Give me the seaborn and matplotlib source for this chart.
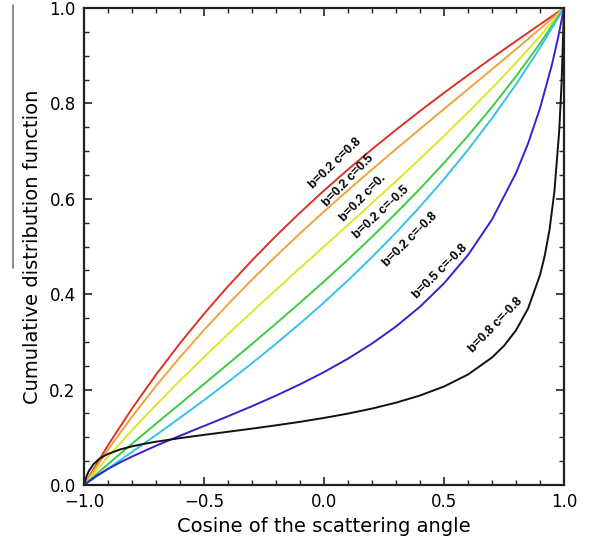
import numpy as np
import pandas as pd
import matplotlib
matplotlib.use("Agg")
import matplotlib.pyplot as plt
from matplotlib.lines import Line2D
from matplotlib.ticker import MultipleLocator, FuncFormatter
import seaborn as sns

# Curves (cosine of scattering angle vs CDF)
mu_b02 = [-1.0, -0.9, -0.8, -0.7, -0.6, -0.5, -0.4, -0.3, -0.2, -0.1, 0.0,
          0.1, 0.2, 0.3, 0.4, 0.5, 0.6, 0.7, 0.8, 0.9, 1.0]
cdf_b02_c08 = [0.0, 0.0834, 0.1602, 0.2312, 0.2972, 0.3588, 0.4165, 0.4709, 0.5222, 0.5709, 0.6173,
               0.6615, 0.7039, 0.7447, 0.7840, 0.8221, 0.8591, 0.8953, 0.9307, 0.9655, 1.0]
cdf_b02_c05 = [0.0, 0.0743, 0.1432, 0.2075, 0.2679, 0.3249, 0.3789, 0.4305, 0.4798, 0.5274, 0.5733,
               0.6179, 0.6615, 0.7043, 0.7464, 0.7882, 0.8298, 0.8715, 0.9136, 0.9563, 1.0]
cdf_b02_c00 = [0.0, 0.0590, 0.1148, 0.1680, 0.2190, 0.2683, 0.3162, 0.3631, 0.4091, 0.4547, 0.5000,
               0.5453, 0.5909, 0.6369, 0.6838, 0.7317, 0.7810, 0.8320, 0.8852, 0.9410, 1.0]
cdf_b02_cm05 = [0.0, 0.0437, 0.0864, 0.1285, 0.1702, 0.2118, 0.2536, 0.2957, 0.3385, 0.3821, 0.4267,
                0.4726, 0.5202, 0.5696, 0.6211, 0.6752, 0.7321, 0.7925, 0.8568, 0.9257, 1.0]
cdf_b02_cm08 = [0.0, 0.0345, 0.0693, 0.1047, 0.1409, 0.1779, 0.2160, 0.2553, 0.2961, 0.3385, 0.3827,
                0.4291, 0.4778, 0.5291, 0.5835, 0.6412, 0.7028, 0.7688, 0.8398, 0.9166, 1.0]

mu_b05 = [-1.0, -0.95, -0.9, -0.85, -0.8, -0.7, -0.6, -0.5, -0.4, -0.3, -0.2, -0.1, 0.0,
          0.1, 0.2, 0.3, 0.4, 0.5, 0.6, 0.7, 0.8, 0.85, 0.9, 0.95, 0.975, 1.0]
cdf_b05_cm08 = [0.0, 0.0182, 0.0336, 0.0472, 0.0596, 0.0823, 0.1032, 0.1237, 0.1441, 0.1652, 0.1874, 0.2110, 0.2367,
                0.2649, 0.2965, 0.3323, 0.3738, 0.4227, 0.4821, 0.5565, 0.6539, 0.7155, 0.7898, 0.8818, 0.9369, 1.0]

mu_b08 = [-1.0, -0.99, -0.98, -0.96, -0.94, -0.92, -0.9, -0.85, -0.8, -0.75, -0.7, -0.6, -0.5, -0.4,
          -0.3, -0.2, -0.1, 0.0, 0.1, 0.2, 0.3, 0.4, 0.5, 0.6, 0.7, 0.75, 0.8, 0.85, 0.9, 0.92,
          0.94, 0.96, 0.98, 0.99, 1.0]
cdf_b08_cm08 = [0.0, 0.0177, 0.0292, 0.0439, 0.0532, 0.0599, 0.0651, 0.0744, 0.0810, 0.0862, 0.0907, 0.0983, 0.1051, 0.1116,
                0.1182, 0.1251, 0.1324, 0.1406, 0.1497, 0.1602, 0.1726, 0.1876, 0.2065, 0.2316, 0.2673, 0.2919, 0.3243, 0.3697, 0.4400, 0.4813,
                0.5364, 0.6153, 0.7421, 0.8432, 1.0]

labels = ["b=0.2 c=0.8", "b=0.2 c=0.5", "b=0.2 c=0.", "b=0.2 c=-0.5",
          "b=0.2 c=-0.8", "b=0.5 c=-0.8", "b=0.8 c=-0.8"]
colors = ["#dc3228", "#f2a23c", "#dde62c", "#3ccc44", "#38c0ec", "#3b1fcf", "#111111"]
series = [(mu_b02, cdf_b02_c08), (mu_b02, cdf_b02_c05), (mu_b02, cdf_b02_c00),
          (mu_b02, cdf_b02_cm05), (mu_b02, cdf_b02_cm08), (mu_b05, cdf_b05_cm08),
          (mu_b08, cdf_b08_cm08)]

# where each curve label sits (data coords) and its angle
label_x = [0.045, 0.102, 0.160, 0.240, 0.360, 0.485, 0.715]
label_y = [0.674, 0.638, 0.602, 0.571, 0.514, 0.447, 0.336]
label_rot = [44, 46, 46, 43, 45, 45, 46]

frames = []
for lab, (mu, cdf) in zip(labels, series):
    frames.append(pd.DataFrame({"mu": mu, "cdf": cdf, "curve": lab}))
df = pd.concat(frames, ignore_index=True)

sns.set_theme(style="ticks")
plt.rcParams['font.family'] = ['DejaVu Sans']

fig = plt.figure(figsize=(5.9, 5.45), dpi=100)
ax = fig.add_axes([84 / 590, 60 / 545, 480 / 590, 477 / 545])

sns.lineplot(data=df, x="mu", y="cdf", hue="curve", hue_order=labels,
             palette=colors, estimator=None, linewidth=1.4, legend=False, ax=ax)

for lab, lx, ly, rot in zip(labels, label_x, label_y, label_rot):
    ax.text(lx, ly, lab, rotation=rot, ha="center", va="center",
            fontsize=9, fontweight="bold", color="black", rotation_mode="anchor",
            family=["Liberation Sans", "DejaVu Sans"])

fmt = FuncFormatter(lambda v, pos: f"{v:.1f}".replace("-", "\u2212"))
ax.set_xlim(-1, 1)
ax.set_ylim(0, 1)
ax.xaxis.set_major_locator(MultipleLocator(0.5))
ax.xaxis.set_minor_locator(MultipleLocator(0.1))
ax.yaxis.set_major_locator(MultipleLocator(0.2))
ax.yaxis.set_minor_locator(MultipleLocator(0.05))
ax.xaxis.set_major_formatter(fmt)
ax.yaxis.set_major_formatter(fmt)
ax.tick_params(which="both", direction="in", top=True, right=True, color="#222222",
               labelsize=12, labelcolor="black")
ax.tick_params(which="major", length=6, width=1.2, pad=6)
ax.tick_params(which="minor", length=3.5, width=1.0)
for sp in ax.spines.values():
    sp.set_linewidth(1.6)
    sp.set_color("#222222")

ax.set_xlabel("Cosine of the scattering angle", fontsize=14, labelpad=4, color="black")
ax.set_ylabel("Cumulative distribution function", fontsize=14, labelpad=5, color="black")

# thin grey rule left of the y label, as in the scanned figure
fig.add_artist(Line2D([13 / 590, 13 / 590], [1 - 5 / 545, 1 - 268 / 545],
                      color="#777777", linewidth=1.2))

fig.savefig("out.png", dpi=100)
